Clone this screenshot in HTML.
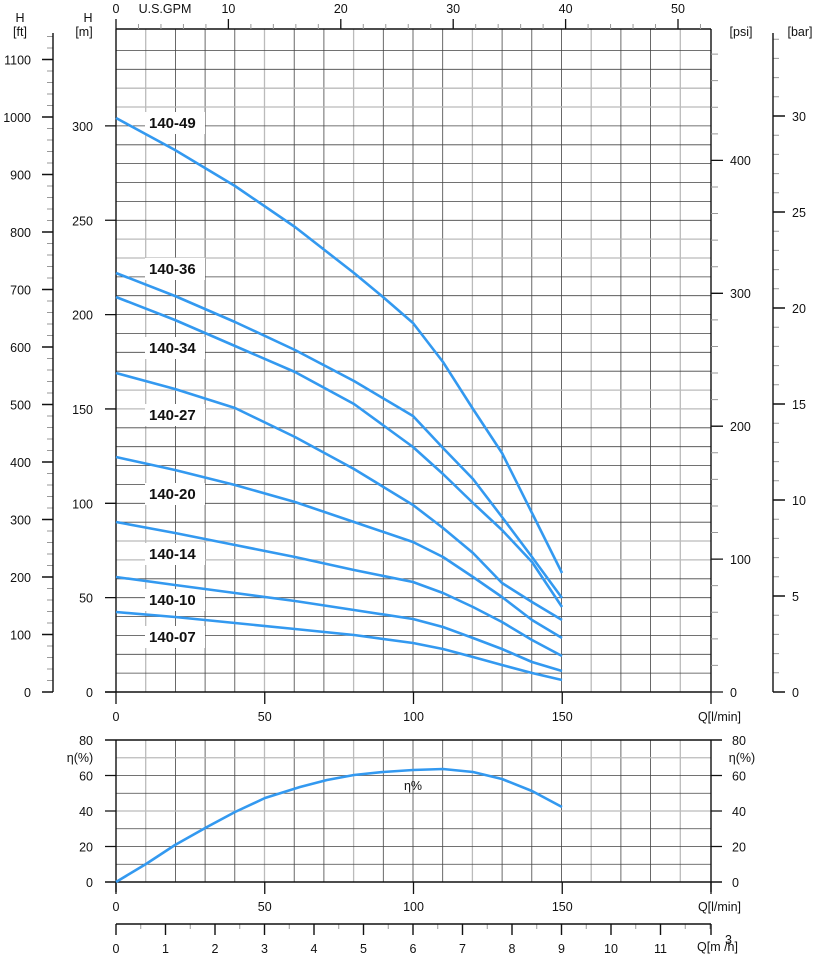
<!DOCTYPE html>
<html><head><meta charset="utf-8"><style>
html,body{margin:0;padding:0;background:#fff}
svg{display:block}
text{font-family:"Liberation Sans","DejaVu Sans",sans-serif;font-size:12.5px;fill:#111}
.b{font-weight:bold;font-size:15px}
</style></head><body>
<svg width="815" height="958" viewBox="0 0 815 958" xmlns="http://www.w3.org/2000/svg">
<!-- main grid vertical -->
<path fill="none" stroke="#444" stroke-width="0.8" d="M175.4 29V692M205.1 29V692M234.8 29V692M294.2 29V692M323.9 29V692M383.3 29V692M413 29V692M442.7 29V692M502.1 29V692M531.8 29V692M561.5 29V692M620.9 29V692M650.6 29V692
M175.4 740V882M205.1 740V882M234.8 740V882M294.2 740V882M323.9 740V882M383.3 740V882M413 740V882M442.7 740V882M502.1 740V882M531.8 740V882M561.5 740V882M620.9 740V882M650.6 740V882"/>
<path fill="none" stroke="#bbb" stroke-width="1.3" d="M145.7 29V692M264.5 29V692M353.6 29V692M472.4 29V692M591.2 29V692M680.3 29V692
M145.7 740V882M264.5 740V882M353.6 740V882M472.4 740V882M591.2 740V882M680.3 740V882"/>
<!-- main grid horizontal -->
<path fill="none" stroke="#444" stroke-width="0.8" d="M116 673.1H711M116 654.3H711M116 635.4H711M116 616.5H711M116 597.7H711M116 578.8H711M116 522.2H711M116 503.3H711M116 484.4H711M116 465.6H711M116 446.7H711M116 427.8H711M116 371.2H711M116 352.3H711M116 333.5H711M116 314.6H711M116 295.7H711M116 276.9H711M116 220.3H711M116 201.4H711M116 182.5H711M116 163.6H711M116 144.8H711M116 125.9H711M116 69.3H711M116 50.4H711
M116 864.25H711M116 846.5H711M116 828.75H711M116 793.25H711M116 775.5H711"/>
<path fill="none" stroke="#bbb" stroke-width="1.3" d="M116 559.9H711M116 541H711M116 408.9H711M116 390.1H711M116 258H711M116 239.1H711M116 107H711M116 88.2H711M116 811H711M116 757.75H711"/>
<!-- frames -->
<path fill="none" stroke="#111" stroke-width="1.4" d="M116 29H711M116 29V692M711 29V692M105 692H711M105 740H722M105 882H722M116 740V892M711 740V892"/>
<!-- Q ticks -->
<path fill="none" stroke="#111" stroke-width="1.3" d="M116 692V704M264.75 692V704M413.5 692V704M562.25 692V704M711 692V704M116 882V894M264.75 882V894M413.5 882V894M562.25 882V894M711 882V894"/>
<g text-anchor="middle">
<text x="116" y="721">0</text><text x="264.75" y="721">50</text><text x="413.5" y="721">100</text><text x="562.25" y="721">150</text>
<text x="116" y="911">0</text><text x="264.75" y="911">50</text><text x="413.5" y="911">100</text><text x="562.25" y="911">150</text>
</g>
<text x="741" y="721" text-anchor="end">Q[l/min]</text><text x="741" y="911" text-anchor="end">Q[l/min]</text>
<!-- m axis -->
<path fill="none" stroke="#111" stroke-width="1.3" d="M105 692H116M105 597.65H116M105 503.3H116M105 408.95H116M105 314.6H116M105 220.25H116M105 125.9H116"/>
<g text-anchor="end">
<text x="93" y="697">0</text><text x="93" y="602.6">50</text><text x="93" y="508.3">100</text><text x="93" y="414">150</text><text x="93" y="319.6">200</text><text x="93" y="225.3">250</text><text x="93" y="130.9">300</text>
</g>
<text x="88" y="22" text-anchor="middle">H</text><text x="84" y="36" text-anchor="middle">[m]</text>
<!-- ft axis -->
<path d="M50 692V34" stroke="#999" stroke-width="6" stroke-dasharray="1 10.5" stroke-dashoffset="0.5"/>
<path fill="none" stroke="#111" stroke-width="1.4" d="M53 33V692M42 692H53M42 634.5H53M42 577H53M42 519.5H53M42 462H53M42 404.5H53M42 347H53M42 289.5H53M42 232H53M42 174.5H53M42 117H53M42 59.5H53"/>
<g text-anchor="end">
<text x="31" y="697">0</text><text x="31" y="639.5">100</text><text x="31" y="582">200</text><text x="31" y="524.5">300</text><text x="31" y="467">400</text><text x="31" y="409.5">500</text><text x="31" y="352">600</text><text x="31" y="294.5">700</text><text x="31" y="237">800</text><text x="31" y="179.5">900</text><text x="31" y="122">1000</text><text x="31" y="64.5">1100</text>
</g>
<text x="20" y="22" text-anchor="middle">H</text><text x="20" y="36" text-anchor="middle">[ft]</text>
<!-- psi axis -->
<path d="M714.5 692V32" stroke="#999" stroke-width="7" stroke-dasharray="1 25.58" stroke-dashoffset="0.5"/>
<path fill="none" stroke="#111" stroke-width="1.3" d="M711 692H723M711 559.1H723M711 426.2H723M711 293.3H723M711 160.4H723"/>
<g text-anchor="start">
<text x="730" y="697">0</text><text x="730" y="564">100</text><text x="730" y="431">200</text><text x="730" y="298">300</text><text x="730" y="165">400</text>
</g>
<text x="741" y="36" text-anchor="middle">[psi]</text>
<!-- bar axis -->
<path d="M776 692V34" stroke="#999" stroke-width="6" stroke-dasharray="1 18.2" stroke-dashoffset="0.5"/>
<path fill="none" stroke="#111" stroke-width="1.4" d="M773 33V692M773 692H785M773 596H785M773 500H785M773 404H785M773 308H785M773 212H785M773 116H785"/>
<g text-anchor="start">
<text x="792" y="697">0</text><text x="792" y="601">5</text><text x="792" y="505">10</text><text x="792" y="409">15</text><text x="792" y="313">20</text><text x="792" y="217">25</text><text x="792" y="121">30</text>
</g>
<text x="800" y="36" text-anchor="middle">[bar]</text>
<!-- GPM axis -->
<path d="M116 26.5H711" stroke="#999" stroke-width="5" stroke-dasharray="1 21.48" stroke-dashoffset="0.5"/>
<path fill="none" stroke="#111" stroke-width="1.3" d="M116 19V29M228.4 19V29M340.8 19V29M453.2 19V29M565.6 19V29M678 19V29"/>
<g text-anchor="middle">
<text x="116" y="13">0</text><text x="228.4" y="13">10</text><text x="340.8" y="13">20</text><text x="453.2" y="13">30</text><text x="565.6" y="13">40</text><text x="678" y="13">50</text>
<text x="165" y="13">U.S.GPM</text>
</g>
<!-- eff axis -->
<path fill="none" stroke="#111" stroke-width="1.3" d="M105 846.5H116M105 811H116M105 775.5H116M711 846.5H722M711 811H722M711 775.5H722"/>
<g text-anchor="end">
<text x="93" y="887">0</text><text x="93" y="851.5">20</text><text x="93" y="816">40</text><text x="93" y="780.5">60</text><text x="93" y="745">80</text>
</g>
<g text-anchor="start">
<text x="732" y="887">0</text><text x="732" y="851.5">20</text><text x="732" y="816">40</text><text x="732" y="780.5">60</text><text x="732" y="745">80</text>
</g>
<text x="80" y="762" text-anchor="middle">η(%)</text><text x="742" y="762" text-anchor="middle">η(%)</text>
<!-- m3/h axis -->
<path d="M116 926.5H711" stroke="#999" stroke-width="5" stroke-dasharray="1 23.75" stroke-dashoffset="0.5"/>
<path fill="none" stroke="#111" stroke-width="1.4" d="M116 924H711M116 924V935M165.5 924V935M215 924V935M264.5 924V935M314 924V935M363.5 924V935M413 924V935M462.5 924V935M512 924V935M561.5 924V935M611 924V935M660.5 924V935M711 924V935"/>
<g text-anchor="middle">
<text x="116" y="953">0</text><text x="165.5" y="953">1</text><text x="215" y="953">2</text><text x="264.5" y="953">3</text><text x="314" y="953">4</text><text x="363.5" y="953">5</text><text x="413" y="953">6</text><text x="462.5" y="953">7</text><text x="512" y="953">8</text><text x="561.5" y="953">9</text><text x="611" y="953">10</text><text x="660.5" y="953">11</text>
</g>
<text x="697" y="951">Q[m /h]</text><text x="725" y="944">3</text>
<!-- label backgrounds -->
<g fill="#fff">
<rect x="145" y="112" width="60" height="22"/><rect x="145" y="258" width="60" height="22"/><rect x="145" y="337" width="60" height="22"/><rect x="145" y="404" width="60" height="22"/><rect x="145" y="483" width="60" height="22"/><rect x="145" y="543" width="60" height="22"/><rect x="145" y="589" width="60" height="22"/><rect x="145" y="626" width="60" height="22"/>
</g>
<g class="b">
<text class="b" x="149" y="128">140-49</text><text class="b" x="149" y="274">140-36</text><text class="b" x="149" y="353">140-34</text><text class="b" x="149" y="420">140-27</text><text class="b" x="149" y="499">140-20</text><text class="b" x="149" y="559">140-14</text><text class="b" x="149" y="605">140-10</text><text class="b" x="149" y="642">140-07</text>
</g>
<!-- curves -->
<g fill="none" stroke="#3399f0" stroke-width="2.6" stroke-linejoin="round">
<polyline points="116,118 175,150 235,186 295,227 354,273 383,297 413,323 443,362 473,409 502,453 532,513 562,573"/>
<polyline points="116,273 175,296 235,322 295,350 354,381 413,416 443,448 473,479 502,517 532,557 562,598"/>
<polyline points="116,297 175,320 235,346 295,372 354,404 413,447 443,474 473,503 502,530 532,562 562,607"/>
<polyline points="116,373 175,389 235,408 295,437 354,469 413,505 443,528 473,553 502,583 532,602 562,620"/>
<polyline points="116,457 175,470 235,485 295,502 354,522 413,542 443,557 473,577 502,597 532,620 562,638"/>
<polyline points="116,522 175,533 235,545 295,557 354,570 413,582 443,593 473,607 502,622 532,640 562,656"/>
<polyline points="116,577 175,585 235,593 295,601 354,610 413,619 443,627 473,638 502,649 532,662 562,671"/>
<polyline points="116,612 175,617 235,623 295,629 354,635 413,643 443,649 473,657 502,665 532,673 562,680"/>
<polyline points="116,882 146,864 175,845 207,827 235,812 265,798 300,787 327,780 354,775 383,772 413,770 443,769 473,772 502,779 532,791 562,807"/>
</g>
<text x="413" y="790" text-anchor="middle">η%</text>
</svg>
</body></html>
